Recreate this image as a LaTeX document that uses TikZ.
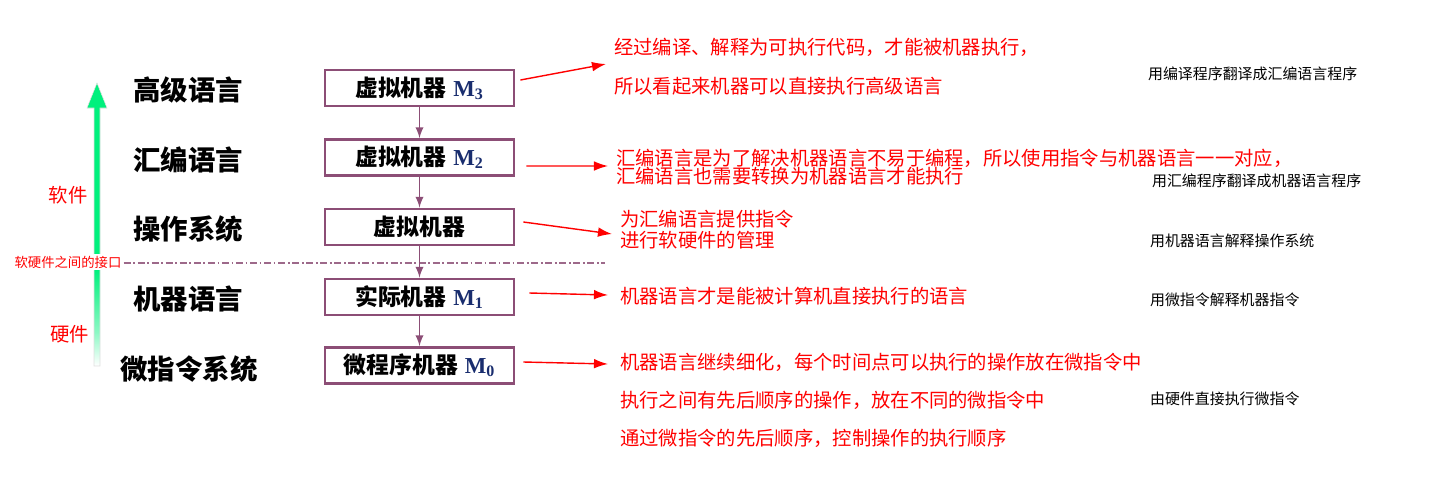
\documentclass[tikz,border=0pt]{standalone}
\usepackage{fontspec}
\setmainfont{Noto Sans CJK SC}
\newfontfamily\mfont{Liberation Serif}
\usetikzlibrary{arrows.meta}
\definecolor{vmline}{RGB}{140,78,118}
\definecolor{upgreen}{RGB}{0,240,125}
\definecolor{mblue}{RGB}{25,45,110}
\pgfdeclareverticalshading{upfade}{100bp}{color(0bp)=(white); color(25bp)=(white); color(31bp)=(upgreen!45); color(42bp)=(upgreen); color(100bp)=(upgreen)}
\newcommand{\vmM}[1]{\hspace{0.3em}{\mfont\bfseries\color{mblue}M\textsubscript{#1}}}

\begin{document}
\begin{tikzpicture}[x=0.02cm, y=-0.02cm, >=latex,
      vm/.style={draw=vmline, line width=1.6pt, minimum width=3.78cm, minimum height=0.72cm, inner sep=0pt, font=\fontsize{13}{15}\selectfont\bfseries},
      lvl/.style={font=\fontsize{15.6}{18}\selectfont\bfseries},
      note/.style={anchor=west, text=red, inner sep=1pt, font=\fontsize{11}{13}\selectfont},
      side/.style={anchor=west, inner sep=1pt, font=\fontsize{8.5}{10}\selectfont},
      hw/.style={text=red, font=\fontsize{11}{13}\selectfont},
      down/.style={->, draw=vmline, line width=1.1pt},
      tell/.style={-{Latex[length=8pt,width=5.5pt]}, red, line width=0.8pt}]
    \useasboundingbox (0,0) rectangle (1454,484);
    % rising arrow, software over hardware
    \coordinate (uptip) at (97,83);
    \coordinate (upfoot) at (97,366);
    \shade[shading=upfade, draw=gray!25, line width=0.3pt]
      (uptip) -- (107,108) -- (100,108) -- (upfoot -| 100,0) -- (upfoot -| 94,0) -- (94,108) -- (87,108) -- cycle;
    \node[hw] (sw) at (68,195) {软件};
    \node[hw] (hwl) at (70,334) {硬件};
    % level names
    \node[lvl] (hll) at (188,90) {高级语言};
    \node[lvl] (asm) at (188,160) {汇编语言};
    \node[lvl] (os) at (188,229) {操作系统};
    \node[lvl] (ml) at (188,299) {机器语言};
    \node[lvl] (mi) at (189,369) {微指令系统};
    % interface line
    \node[fill=white, text=red, inner sep=1pt, rounded corners=2pt, font=\fontsize{7.6}{9}\selectfont] (iface) at (68,262) {软硬件之间的接口};
    \coordinate (ifr) at (605,263);
    \draw[vmline!85, line width=0.8pt, dash pattern=on 4pt off 1.5pt on 1pt off 1.5pt] (iface.east |- ifr) -- (ifr);
    % machines
    \node[vm] (m3) at (419.5,88) {虚拟机器\vmM{3}};
    \node[vm] (m2) at (419.5,157.5) {虚拟机器\vmM{2}};
    \node[vm] (vos) at (419.5,227) {虚拟机器};
    \node[vm] (m1) at (419.5,297) {实际机器\vmM{1}};
    \node[vm] (m0) at (419.5,365.5) {微程序机器\vmM{0}};
    \draw[down] (m3) -- (m2);
    \draw[down] (m2) -- (vos);
    \draw[down] (vos) -- (m1);
    \draw[down] (m1) -- (m0);
    % notes
    \node[note] (n3a) at (612,47) {经过编译、解释为可执行代码，才能被机器执行，};
    \node[note] (n3b) at (612,86) {所以看起来机器可以直接执行高级语言};
    \node[note] (n2a) at (614,158) {汇编语言是为了解决机器语言不易于编程，所以使用指令与机器语言一一对应，};
    \node[note] (n2b) at (614,176) {汇编语言也需要转换为机器语言才能执行};
    \node[note] (nsa) at (618,219) {为汇编语言提供指令};
    \node[note] (nsb) at (618,240) {进行软硬件的管理};
    \node[note] (n1) at (618,296) {机器语言才是能被计算机直接执行的语言};
    \node[note] (n0a) at (618,362) {机器语言继续细化，每个时间点可以执行的操作放在微指令中};
    \node[note] (n0b) at (618,400) {执行之间有先后顺序的操作，放在不同的微指令中};
    \node[note] (n0c) at (618,438) {通过微指令的先后顺序，控制操作的执行顺序};
    \coordinate (p3) at (606,64);
    \coordinate (p2) at (608,166);
    \coordinate (ps) at (612,234);
    \coordinate (p1) at (608,295);
    \coordinate (p0) at (608,364);
    \draw[tell] ([shift={(5,-8)}]m3.east) -- (p3);
    \draw[tell] ([shift={(11,8.5)}]m2.east) -- (p2);
    \draw[tell] ([shift={(8,-5)}]vos.east) -- (ps);
    \draw[tell] ([shift={(14,-4)}]m1.east) -- (p1);
    \draw[tell] ([shift={(8,-3.5)}]m0.east) -- (p0);
    % how each level runs
    \node[side] (s3) at (1146,74) {用编译程序翻译成汇编语言程序};
    \node[side] (s2) at (1150,181) {用汇编程序翻译成机器语言程序};
    \node[side] (ss) at (1148,241) {用机器语言解释操作系统};
    \node[side] (s1) at (1148,300) {用微指令解释机器指令};
    \node[side] (s0) at (1148,399) {由硬件直接执行微指令};
  \end{tikzpicture}
\end{document}
